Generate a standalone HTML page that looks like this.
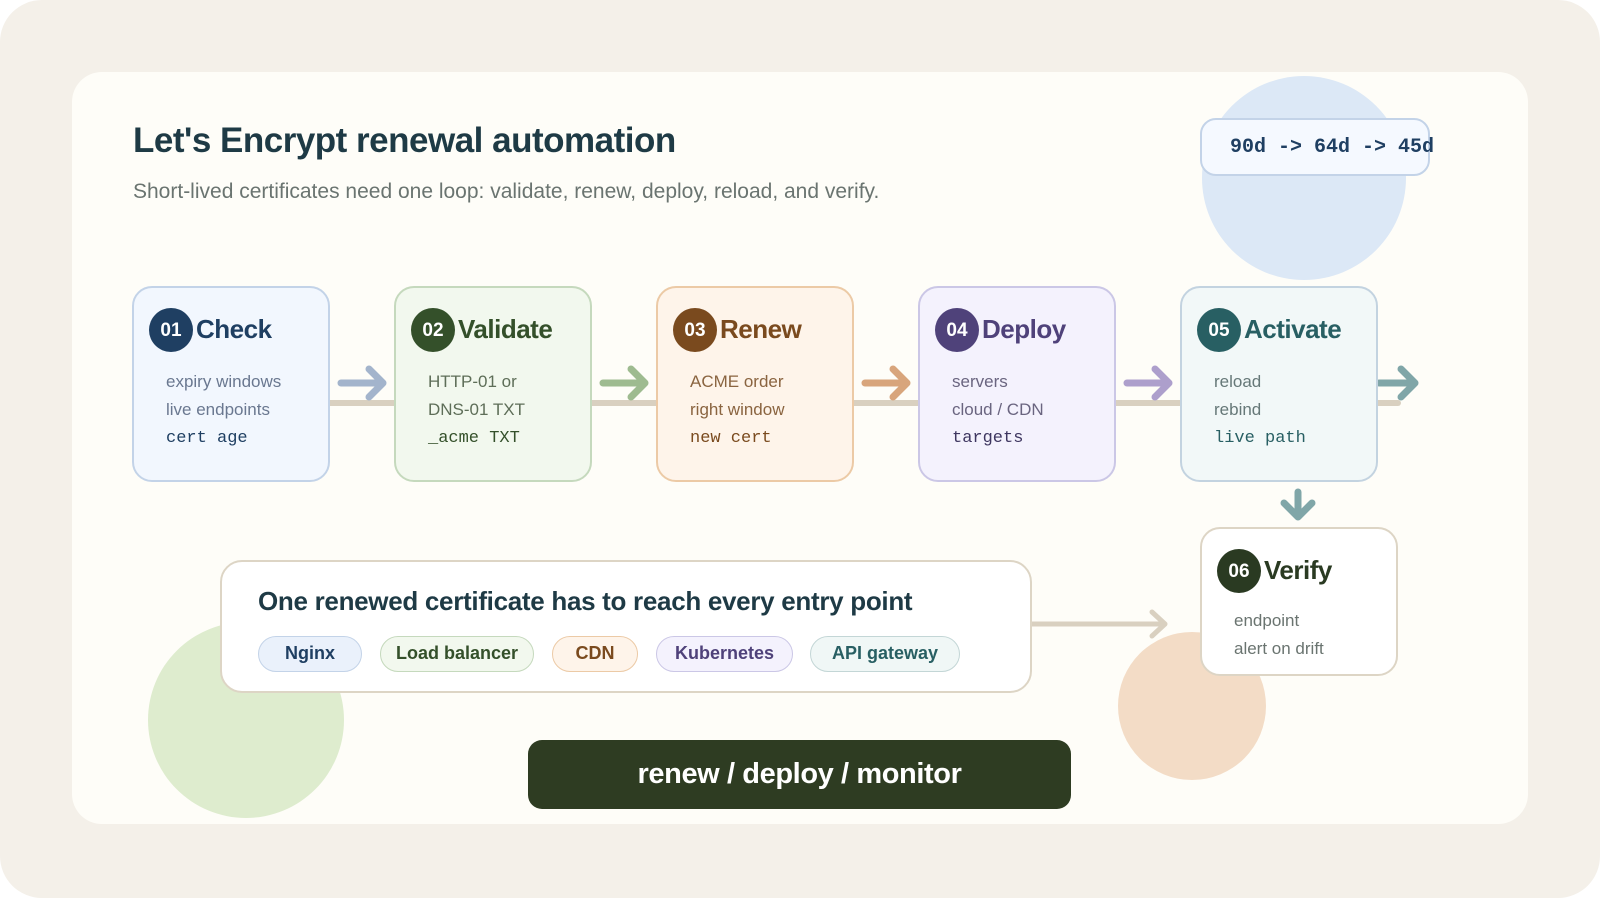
<!DOCTYPE html>
<html><head><meta charset="utf-8"><style>
*{margin:0;padding:0;box-sizing:border-box}
html,body{width:1600px;height:898px;overflow:hidden;background:#fff}
body{font-family:"Liberation Sans",sans-serif;position:relative}
.abs{position:absolute}
.outer{left:0;top:0;width:1600px;height:898px;background:#f4f0e9;border-radius:42px}
.panel{left:72px;top:72px;width:1456px;height:752px;background:#fefdf8;border-radius:30px;overflow:hidden}
.card{position:absolute;width:198px;height:196px;border:2px solid;border-radius:20px}
.badge{position:absolute;left:15px;top:20px;width:44px;height:44px;border-radius:50%;color:#fff;font-weight:bold;font-size:19px;text-align:center;line-height:46px}
.ct{position:absolute;left:62px;top:26px;font-size:26px;font-weight:bold;letter-spacing:-0.5px;white-space:nowrap}
.l{position:absolute;left:32px;font-size:17px;white-space:nowrap}
.m{font-family:"Liberation Mono",monospace;font-size:17px}
.chip{position:absolute;top:636px;height:36px;border:1.5px solid;border-radius:18px;font-size:18px;font-weight:bold;text-align:center;line-height:33px;white-space:nowrap}
</style></head><body>
<div class="abs outer"></div>
<div class="abs panel">
 <div class="abs" style="left:1130px;top:4px;width:204px;height:204px;border-radius:50%;background:#dce8f6"></div>
 <div class="abs" style="left:76px;top:550px;width:196px;height:196px;border-radius:50%;background:#deecce"></div>
 <div class="abs" style="left:1046px;top:560px;width:148px;height:148px;border-radius:50%;background:#f3dcc6"></div>
</div>
<div class="abs" style="left:133px;top:121px;font-size:35px;font-weight:bold;color:#1e3a45;letter-spacing:-0.5px;white-space:nowrap">Let's Encrypt renewal automation</div>
<div class="abs" style="left:133px;top:180px;font-size:21px;color:#6a7470;white-space:nowrap">Short-lived certificates need one loop: validate, renew, deploy, reload, and verify.</div>
<div class="abs" style="left:1200px;top:118px;width:230px;height:58px;border:2px solid #c3d3e8;border-radius:16px;background:#f5f9ff;font-family:'Liberation Mono',monospace;font-weight:bold;font-size:20px;color:#1f3f62;line-height:56px;padding-left:28px;white-space:nowrap">90d -&gt; 64d -&gt; 45d</div>

<svg class="abs" style="left:0;top:0" width="1600" height="898">
 <g stroke="#d9d0c0" stroke-width="6" stroke-linecap="round">
  <line x1="330" y1="403" x2="1398" y2="403"/>
 </g>
 <g fill="none" stroke-width="7" stroke-linecap="round" stroke-linejoin="round">
  <path d="M341 383H383M369 369L383 383L369 397" stroke="#a3b4cc"/>
  <path d="M603 383H645M631 369L645 383L631 397" stroke="#9ebb90"/>
  <path d="M865 383H907M893 369L907 383L893 397" stroke="#d8a57c"/>
  <path d="M1127 383H1169M1155 369L1169 383L1155 397" stroke="#ad9fcc"/>
  <path d="M1379 383H1415M1401 369L1415 383L1401 397" stroke="#80a6a8"/>
  <path d="M1298 492V516M1284 503L1298 517L1312 503" stroke="#80a6a8"/>
  <path d="M1016 624H1165M1152 612L1165 624L1152 636" stroke="#d9d0c0" stroke-width="5"/>
 </g>
</svg>

<div class="card" style="left:132px;top:286px;background:#f2f7fe;border-color:#c3d3e8">
 <div class="badge" style="background:#1f3f62">01</div><div class="ct" style="color:#1f3f62">Check</div>
 <div class="l" style="top:84px;color:#6a7890">expiry windows</div><div class="l" style="top:112px;color:#6a7890">live endpoints</div><div class="l m" style="top:141px;color:#1f3f62">cert age</div></div>
<div class="card" style="left:394px;top:286px;background:#f2f8ee;border-color:#c5d9bd">
 <div class="badge" style="background:#34502a">02</div><div class="ct" style="color:#34502a">Validate</div>
 <div class="l" style="top:84px;color:#5e6e58">HTTP-01 or</div><div class="l" style="top:112px;color:#5e6e58">DNS-01 TXT</div><div class="l m" style="top:141px;color:#34502a">_acme TXT</div></div>
<div class="card" style="left:656px;top:286px;background:#fef4ea;border-color:#eccaa6">
 <div class="badge" style="background:#7a4a1e">03</div><div class="ct" style="color:#7a4a1e">Renew</div>
 <div class="l" style="top:84px;color:#8a6440">ACME order</div><div class="l" style="top:112px;color:#8a6440">right window</div><div class="l m" style="top:141px;color:#7a4a1e">new cert</div></div>
<div class="card" style="left:918px;top:286px;background:#f4f2fd;border-color:#cbc7e6">
 <div class="badge" style="background:#4f427a">04</div><div class="ct" style="color:#4f427a">Deploy</div>
 <div class="l" style="top:84px;color:#6a6580">servers</div><div class="l" style="top:112px;color:#6a6580">cloud / CDN</div><div class="l m" style="top:141px;color:#3e3660">targets</div></div>
<div class="card" style="left:1180px;top:286px;background:#f2f8f8;border-color:#c3d3e0">
 <div class="badge" style="background:#285f63">05</div><div class="ct" style="color:#285f63">Activate</div>
 <div class="l" style="top:84px;color:#667878">reload</div><div class="l" style="top:112px;color:#667878">rebind</div><div class="l m" style="top:141px;color:#285f63">live path</div></div>
<div class="card" style="left:1200px;top:527px;height:149px;background:#fff;border-color:#ddd5c5">
 <div class="badge" style="background:#2a3a22">06</div><div class="ct" style="color:#2a3a22">Verify</div>
 <div class="l" style="top:82px;color:#6a7470">endpoint</div><div class="l" style="top:110px;color:#6a7470">alert on drift</div></div>

<div class="abs" style="left:220px;top:560px;width:812px;height:133px;background:#fff;border:2px solid #ddd5c5;border-radius:22px"></div>
<div class="abs" style="left:258px;top:586px;font-size:26px;font-weight:bold;color:#1e3a45;letter-spacing:-0.3px;white-space:nowrap">One renewed certificate has to reach every entry point</div>
<div class="chip" style="left:258px;width:104px;background:#eaf1fb;border-color:#c3d3e8;color:#1f3f62">Nginx</div>
<div class="chip" style="left:380px;width:154px;background:#f2f8ee;border-color:#c5d9bd;color:#34502a">Load balancer</div>
<div class="chip" style="left:552px;width:86px;background:#fef4ea;border-color:#eccaa6;color:#7a4a1e">CDN</div>
<div class="chip" style="left:656px;width:137px;background:#f4f2fd;border-color:#cbc7e6;color:#4f427a">Kubernetes</div>
<div class="chip" style="left:810px;width:150px;background:#f0f7f6;border-color:#c3d6d6;color:#285f63">API gateway</div>

<div class="abs" style="left:528px;top:740px;width:543px;height:69px;background:#2e3c22;border-radius:14px;color:#fff;font-size:29px;font-weight:bold;text-align:center;line-height:69px;letter-spacing:-0.4px">renew / deploy / monitor</div>
</body></html>
